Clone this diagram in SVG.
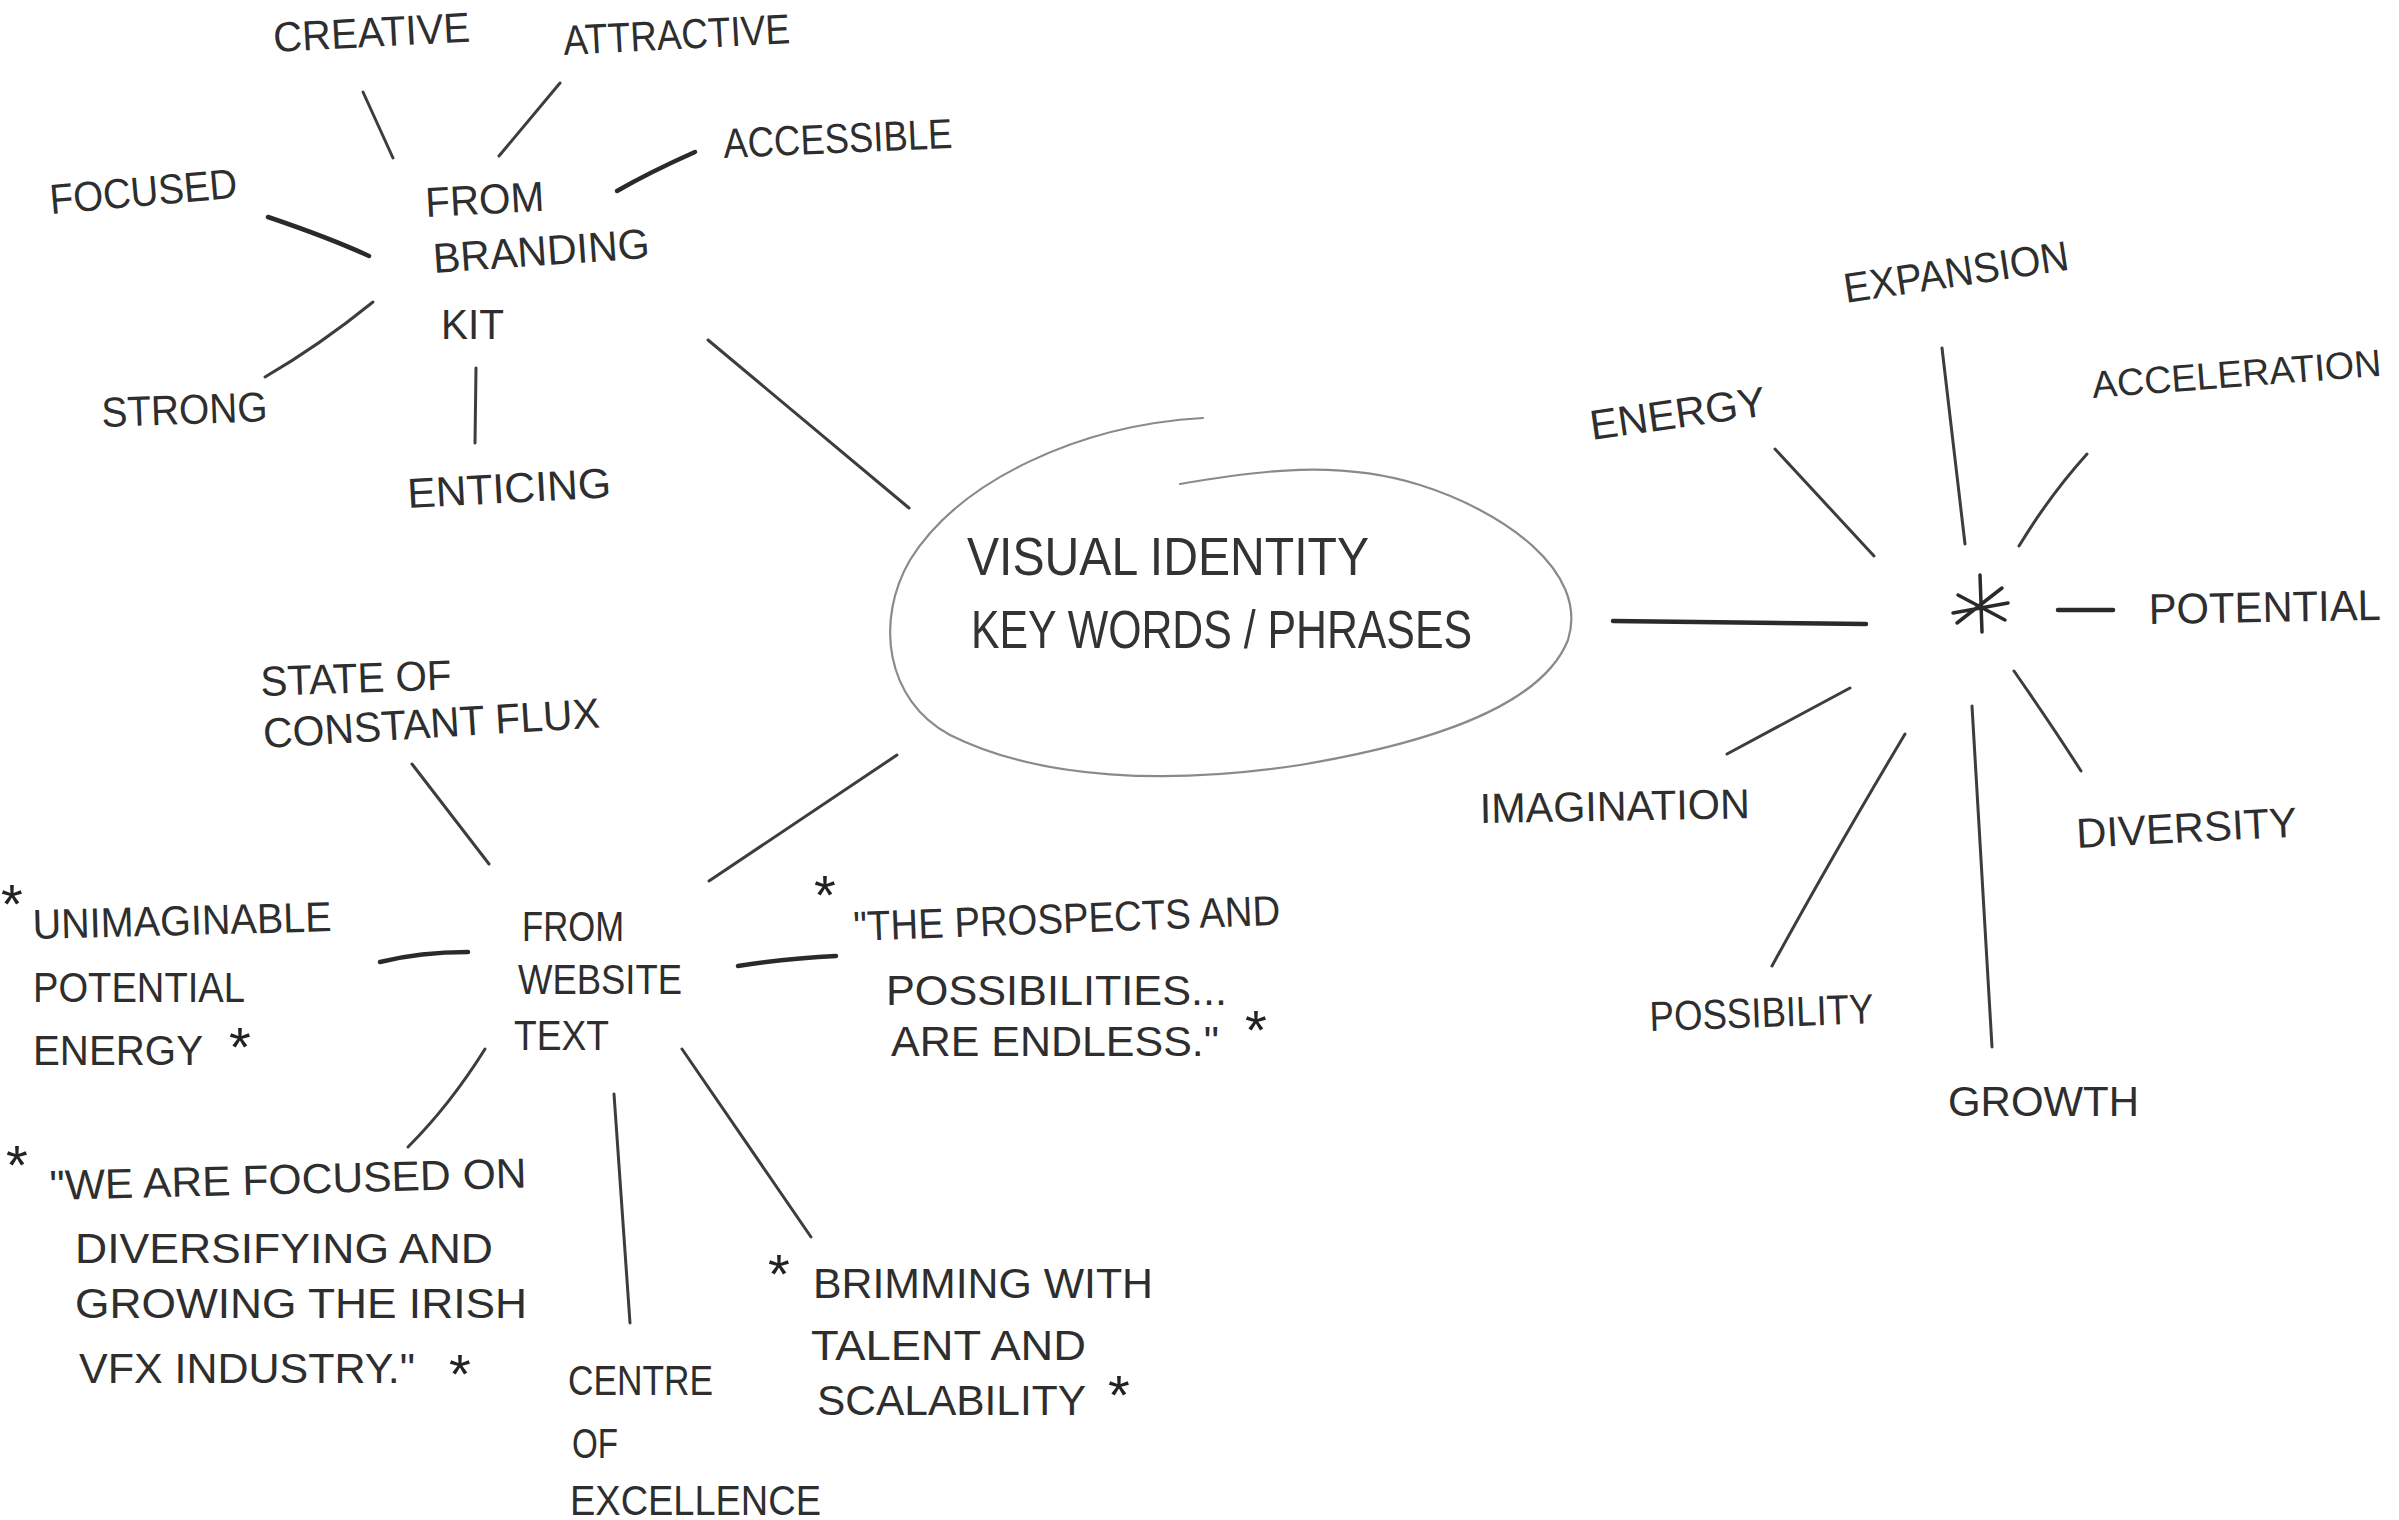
<svg xmlns="http://www.w3.org/2000/svg" width="2399" height="1520" viewBox="0 0 2399 1520">
<style>
  .t { font-family: "Liberation Sans", "DejaVu Sans", sans-serif; fill: #2e2e2e; font-size: 42px; }
  .c { font-size: 54px; fill: #333; }
  .p { font-size: 43px; }
  .a { font-size: 38px; }
  .ast { font-family: "Liberation Sans", "DejaVu Sans", sans-serif; fill: #222; font-size: 56px; text-anchor: middle; }
  .ln { stroke: #3d3d3d; stroke-width: 3; fill: none; stroke-linecap: round; }
  .lnb { stroke: #2a2a2a; stroke-width: 4.5; fill: none; stroke-linecap: round; }
  .ell { stroke: #8a8a8a; stroke-width: 2.2; fill: none; stroke-linecap: round; }
</style>
<rect width="2399" height="1520" fill="#ffffff"/>

<g id="connectors">
  <!-- branding kit spokes -->
  <path class="ln" d="M363,92 L393,158"/>
  <path class="ln" d="M560,83 L499,156"/>
  <path class="lnb" d="M695,152 Q650,172 617,191"/>
  <path class="lnb" d="M268,217 Q330,238 369,256"/>
  <path class="ln" d="M373,302 Q320,345 265,377"/>
  <path class="ln" d="M476,368 L475,443"/>
  <path class="ln" d="M708,340 L909,508"/>
  <!-- website text spokes -->
  <path class="ln" d="M709,881 L897,755"/>
  <path class="ln" d="M412,764 L489,864"/>
  <path class="lnb" d="M380,962 Q420,952 468,952"/>
  <path class="lnb" d="M738,966 Q790,958 836,956"/>
  <path class="ln" d="M485,1049 Q450,1105 408,1147"/>
  <path class="ln" d="M614,1094 L630,1323"/>
  <path class="ln" d="M682,1049 L811,1237"/>
  <!-- right cluster spokes -->
  <path class="lnb" d="M1613,621 L1866,624"/>
  <path class="ln" d="M1775,449 L1874,556"/>
  <path class="ln" d="M1942,348 L1965,544"/>
  <path class="ln" d="M2087,454 Q2050,495 2019,546"/>
  <path class="lnb" d="M2058,610 L2113,610"/>
  <path class="ln" d="M2014,671 Q2055,730 2081,771"/>
  <path class="ln" d="M1972,706 L1992,1047"/>
  <path class="ln" d="M1905,734 Q1830,860 1772,966"/>
  <path class="ln" d="M1850,688 L1727,754"/>
</g>

<g id="center">
  <path class="ell" d="M1203,418 C1080,425 960,480 910,560 C875,620 885,700 950,735 C1040,780 1170,785 1300,765 C1420,745 1540,710 1568,640 C1590,570 1500,510 1420,485 C1340,460 1260,470 1180,484"/>
  <text class="t c" x="967" y="575" textLength="402" lengthAdjust="spacingAndGlyphs">VISUAL IDENTITY</text>
  <text class="t c" x="971" y="648" textLength="501" lengthAdjust="spacingAndGlyphs">KEY WORDS / PHRASES</text>
</g>

<!-- Branding kit cluster -->
<g id="branding-kit">
  <text class="t" x="426" y="217" textLength="119" lengthAdjust="spacingAndGlyphs" transform="rotate(-3 426 217)">FROM</text>
  <text class="t" x="434" y="273" textLength="217" lengthAdjust="spacingAndGlyphs" transform="rotate(-4 434 273)">BRANDING</text>
  <text class="t" x="441" y="339" textLength="63" lengthAdjust="spacingAndGlyphs">KIT</text>
</g>
<g id="creative"><text class="t" x="274" y="52" textLength="197" lengthAdjust="spacingAndGlyphs" transform="rotate(-3 274 52)">CREATIVE</text></g>
<g id="attractive"><text class="t" x="564" y="55" textLength="227" lengthAdjust="spacingAndGlyphs" transform="rotate(-3 564 55)">ATTRACTIVE</text></g>
<g id="accessible"><text class="t" x="724" y="158" textLength="229" lengthAdjust="spacingAndGlyphs" transform="rotate(-2.5 724 158)">ACCESSIBLE</text></g>
<g id="focused"><text class="t" x="51" y="214" textLength="188" lengthAdjust="spacingAndGlyphs" transform="rotate(-5 51 214)">FOCUSED</text></g>
<g id="strong"><text class="t" x="102" y="427" textLength="166" lengthAdjust="spacingAndGlyphs" transform="rotate(-2 102 427)">STRONG</text></g>
<g id="enticing"><text class="t" x="408" y="508" textLength="204" lengthAdjust="spacingAndGlyphs" transform="rotate(-3 408 508)">ENTICING</text></g>

<!-- Website text cluster -->
<g id="website-text">
  <text class="t" x="522" y="941" textLength="102" lengthAdjust="spacingAndGlyphs">FROM</text>
  <text class="t" x="518" y="994" textLength="164" lengthAdjust="spacingAndGlyphs">WEBSITE</text>
  <text class="t" x="514" y="1050" textLength="95" lengthAdjust="spacingAndGlyphs">TEXT</text>
</g>
<g id="state-of-flux">
  <text class="t" x="261" y="696" textLength="191" lengthAdjust="spacingAndGlyphs" transform="rotate(-2 261 696)">STATE OF</text>
  <text class="t" x="264" y="748" textLength="337" lengthAdjust="spacingAndGlyphs" transform="rotate(-3.5 264 748)">CONSTANT FLUX</text>
</g>
<g id="unimaginable">
  <text class="ast" x="12" y="923">*</text>
  <text class="t" x="33" y="939" textLength="299" lengthAdjust="spacingAndGlyphs" transform="rotate(-1.5 33 939)">UNIMAGINABLE</text>
  <text class="t" x="33" y="1002" textLength="212" lengthAdjust="spacingAndGlyphs">POTENTIAL</text>
  <text class="t" x="33" y="1065" textLength="170" lengthAdjust="spacingAndGlyphs">ENERGY</text>
  <text class="ast" x="240" y="1066">*</text>
</g>
<g id="prospects">
  <text class="ast" x="825" y="914">*</text>
  <text class="t" x="854" y="941" textLength="427" lengthAdjust="spacingAndGlyphs" transform="rotate(-2.2 854 941)">"THE PROSPECTS AND</text>
  <text class="t" x="886" y="1005" textLength="341" lengthAdjust="spacingAndGlyphs">POSSIBILITIES...</text>
  <text class="t" x="891" y="1056" textLength="328" lengthAdjust="spacingAndGlyphs">ARE ENDLESS."</text>
  <text class="ast" x="1256" y="1049">*</text>
</g>
<g id="diversifying">
  <text class="ast" x="17" y="1184">*</text>
  <text class="t" x="50" y="1200" textLength="477" lengthAdjust="spacingAndGlyphs" transform="rotate(-1.5 50 1200)">"WE ARE FOCUSED ON</text>
  <text class="t" x="75" y="1263" textLength="418" lengthAdjust="spacingAndGlyphs">DIVERSIFYING AND</text>
  <text class="t" x="75" y="1318" textLength="452" lengthAdjust="spacingAndGlyphs">GROWING THE IRISH</text>
  <text class="t" x="79" y="1383" textLength="336" lengthAdjust="spacingAndGlyphs">VFX INDUSTRY."</text>
  <text class="ast" x="460" y="1393">*</text>
</g>
<g id="centre-of-excellence">
  <text class="t" x="568" y="1395" textLength="145" lengthAdjust="spacingAndGlyphs">CENTRE</text>
  <text class="t" x="572" y="1458" textLength="46" lengthAdjust="spacingAndGlyphs">OF</text>
  <text class="t" x="570" y="1515" textLength="251" lengthAdjust="spacingAndGlyphs">EXCELLENCE</text>
</g>
<g id="brimming">
  <text class="ast" x="779" y="1293">*</text>
  <text class="t" x="813" y="1298" textLength="340" lengthAdjust="spacingAndGlyphs">BRIMMING WITH</text>
  <text class="t" x="811" y="1360" textLength="275" lengthAdjust="spacingAndGlyphs">TALENT AND</text>
  <text class="t" x="817" y="1415" textLength="269" lengthAdjust="spacingAndGlyphs">SCALABILITY</text>
  <text class="ast" x="1119" y="1414">*</text>
</g>

<!-- Right cluster -->
<g id="star-hub">
  <path class="lnb" d="M1980,575 L1982,632 M1957,623 L2002,588 M1953,613 L2008,603 M1958,595 L2005,620" style="stroke-width:3.5"/>
</g>
<g id="expansion"><text class="t" x="1846" y="303" textLength="227" lengthAdjust="spacingAndGlyphs" transform="rotate(-8.5 1846 303)">EXPANSION</text></g>
<g id="energy"><text class="t" x="1592" y="440" textLength="177" lengthAdjust="spacingAndGlyphs" transform="rotate(-8 1592 440)">ENERGY</text></g>
<g id="acceleration"><text class="t a" x="2093" y="398" textLength="290" lengthAdjust="spacingAndGlyphs" transform="rotate(-4.4 2093 398)">ACCELERATION</text></g>
<g id="potential"><text class="t p" x="2149" y="624" textLength="232" lengthAdjust="spacingAndGlyphs" transform="rotate(-1 2149 624)">POTENTIAL</text></g>
<g id="imagination"><text class="t" x="1480" y="823" textLength="270" lengthAdjust="spacingAndGlyphs" transform="rotate(-1 1480 823)">IMAGINATION</text></g>
<g id="diversity"><text class="t" x="2077" y="848" textLength="221" lengthAdjust="spacingAndGlyphs" transform="rotate(-3 2077 848)">DIVERSITY</text></g>
<g id="possibility"><text class="t" x="1650" y="1031" textLength="224" lengthAdjust="spacingAndGlyphs" transform="rotate(-2 1650 1031)">POSSIBILITY</text></g>
<g id="growth"><text class="t" x="1948" y="1116" textLength="191" lengthAdjust="spacingAndGlyphs">GROWTH</text></g>
</svg>
